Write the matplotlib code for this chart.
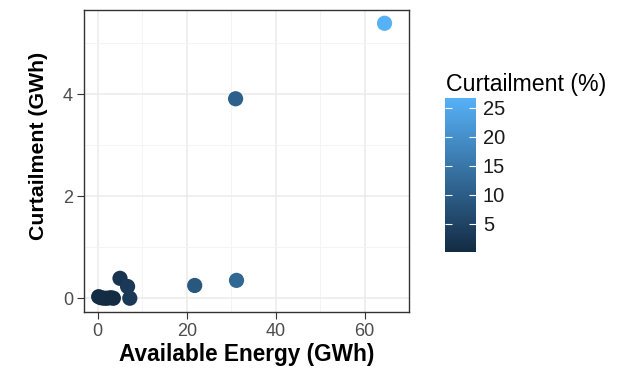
import numpy as np
import matplotlib
matplotlib.use("Agg")
import matplotlib.pyplot as plt
from matplotlib.colors import LinearSegmentedColormap, Normalize

plt.rcParams["font.family"] = ["Liberation Sans", "DejaVu Sans"]

# values
available_gwh = [64.5, 31.0, 31.2, 21.8, 5.0, 6.7, 7.2, 0.2, 0.7, 1.4, 2.1, 2.9, 3.5]
curtailment_gwh = [5.39, 3.91, 0.35, 0.25, 0.39, 0.23, 0.00, 0.03, 0.01, 0.00, 0.00, 0.01, 0.00]
curtailment_pct = [26.7, 10.5, 12.0, 9.0, 2.0, 3.0, 3.0, 0.5, 0.3, 0.2, 0.1, 0.3, 0.1]

x_ticks = [0, 20, 40, 60]
y_ticks = [0, 2, 4]
cbar_ticks = [5, 10, 15, 20, 25]

cmap = LinearSegmentedColormap.from_list("gg", ["#132B43", "#56B1F7"])
norm = Normalize(vmin=min(curtailment_pct), vmax=max(curtailment_pct))

fig = plt.figure(figsize=(6.29, 3.7), dpi=100)
ax = fig.add_axes([84 / 629, 1 - 312 / 370, 325 / 629, 302 / 370])

order = np.argsort(curtailment_pct)
sc = ax.scatter(np.array(available_gwh)[order], np.array(curtailment_gwh)[order],
                c=np.array(curtailment_pct)[order], cmap=cmap, norm=norm,
                s=120, linewidths=0, zorder=3)

ax.set_xlim(-3.1, 68.0)
ax.set_ylim(-0.27, 5.65)
ax.set_xticks(x_ticks)
ax.set_yticks(y_ticks)
ax.set_xticks([10, 30, 50, 70], minor=True)
ax.set_yticks([1, 3, 5], minor=True)
ax.grid(True, which="major", color="#EBEBEB", lw=1.1, zorder=0)
ax.grid(True, which="minor", color="#F3F3F3", lw=0.6, zorder=0)
ax.tick_params(which="minor", length=0)
ax.tick_params(which="major", length=5, color="#333333", labelsize=13,
               labelcolor="#4D4D4D", pad=3)
for sp in ax.spines.values():
    sp.set_color("#333333")
    sp.set_linewidth(1.0)

ax.set_xlabel("Available Energy (GWh)", fontsize=16.3, fontweight="bold", labelpad=2)
fig.text(39 / 629, 1 - 146 / 370, "Curtailment (GWh)", fontsize=15.3,
         fontweight="bold", rotation=90, ha="center", va="center")

cax = fig.add_axes([445 / 629, 1 - 252 / 370, 31 / 629, 154 / 370])
cbar = fig.colorbar(sc, cax=cax, ticks=cbar_ticks)
cbar.outline.set_visible(False)
cax.tick_params(direction="in", length=5, color="white", width=0.8,
                labelsize=14.5, labelcolor="#1A1A1A", pad=5, left=True)
fig.text(446 / 629, 1 - 91 / 370, "Curtailment (%)", fontsize=16.7,
         va="baseline", ha="left")

fig.savefig("out.png", dpi=100)
